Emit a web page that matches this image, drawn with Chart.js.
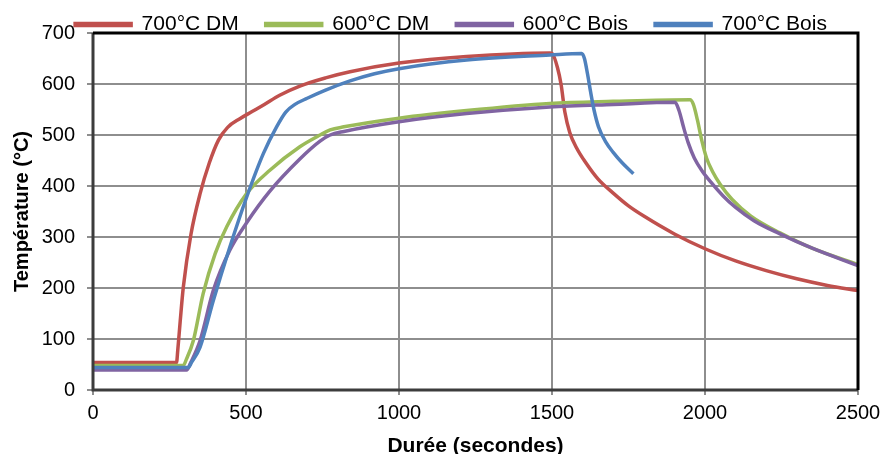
<!DOCTYPE html>
<html>
<head>
<meta charset="utf-8">
<script src="https://cdn.jsdelivr.net/npm/chart.js@4.4.1/dist/chart.umd.min.js"></script>
<style>
  body { margin: 0; background: #fff; }
  #wrap { width: 882px; height: 454px; }
</style>
</head>
<body>
<div id="wrap"><canvas id="chart" width="882" height="454"></canvas></div>
<script>
const SERIES_NAMES = ['700°C DM', '600°C DM', '600°C Bois', '700°C Bois']
const SERIES_COLORS = ['#C0504D', '#9BBB59', '#8064A2', '#4F81BD']
const X_TICKS = [0, 500, 1000, 1500, 2000, 2500]
const Y_TICKS = [0, 100, 200, 300, 400, 500, 600, 700]

// durée (s) / température (°C)
const dm700Time = [0, 273, 277, 285, 295, 320, 350, 380, 410, 440, 480, 520, 560, 610, 676, 760, 840, 1000, 1221, 1493, 1500, 1518, 1530, 1542, 1558, 1580, 1610, 1650, 1700, 1750, 1800, 1900, 2000, 2100, 2200, 2300, 2400, 2500]
const dm700Temp = [54, 54, 78, 135, 201, 305, 385, 445, 490, 515, 532, 546, 560, 578, 596, 612, 624, 641, 654, 661, 660, 632, 598, 545, 505, 475, 446, 414, 386, 361, 341, 306, 277, 253, 234, 218, 205, 195]

const dm600Time = [0, 295, 305, 328, 360, 399, 437, 502, 578, 676, 742, 775, 820, 1000, 1221, 1493, 1700, 1951, 1962, 1975, 1990, 2005, 2025, 2050, 2088, 2150, 2245, 2354, 2500]
const dm600Temp = [48, 48, 60, 97, 189, 267, 320, 385, 431, 477, 500, 510, 516, 533, 548, 562, 566, 569, 560, 530, 488, 455, 428, 403, 374, 341, 308, 277, 246]

const bois600Time = [0, 306, 318, 350, 393, 447, 502, 578, 676, 742, 775, 820, 1000, 1221, 1493, 1700, 1902, 1915, 1930, 1945, 1965, 1990, 2020, 2060, 2100, 2160, 2245, 2354, 2500]
const bois600Temp = [39, 39, 52, 97, 195, 274, 328, 390, 453, 488, 500, 507, 526, 542, 555, 560, 564, 548, 515, 485, 455, 430, 407, 380, 358, 332, 306, 277, 244]

const bois700Time = [0, 311, 322, 350, 393, 447, 502, 557, 600, 630, 660, 700, 760, 840, 920, 1000, 1221, 1493, 1597, 1606, 1616, 1626, 1637, 1652, 1675, 1700, 1730, 1766]
const bois700Temp = [44, 44, 54, 84, 175, 280, 378, 464, 516, 545, 560, 572, 588, 606, 620, 630, 647, 657, 660, 650, 620, 585, 550, 516, 487, 466, 445, 424]

const SERIES_TIME = [dm700Time, dm600Time, bois600Time, bois700Time]
const SERIES_TEMP = [dm700Temp, dm600Temp, bois600Temp, bois700Temp]

const FONT = 'Liberation Sans, Arial, sans-serif'

const framePlugin = {
  id: 'frame',
  afterLayout(chart) {
    // légende remontée comme dans Excel
    chart.legend.top = -13
    chart.legend.left += 22
    chart.legend.right += 22
  },
  afterDatasetsDraw(chart) {
    const { ctx, chartArea: a } = chart
    ctx.save()
    ctx.lineWidth = 3
    ctx.strokeStyle = '#3c3c3c'
    ctx.beginPath()
    ctx.moveTo(a.left, a.top)
    ctx.lineTo(a.left, a.bottom)
    ctx.lineTo(a.right, a.bottom)
    ctx.stroke()
    ctx.strokeStyle = '#000'
    ctx.beginPath()
    ctx.moveTo(a.left, a.top)
    ctx.lineTo(a.right, a.top)
    ctx.lineTo(a.right, a.bottom)
    ctx.stroke()
    ctx.restore()
  }
}

const datasets = SERIES_NAMES.map((name, i) => ({
  label: name,
  data: SERIES_TIME[i].map((t, k) => ({ x: t, y: SERIES_TEMP[i][k] })),
  borderColor: SERIES_COLORS[i],
  backgroundColor: SERIES_COLORS[i],
  borderWidth: 3.5,
  pointRadius: 0,
  fill: false,
  cubicInterpolationMode: 'monotone',
  order: SERIES_NAMES.length - i
}))

new Chart(document.getElementById('chart'), {
  type: 'line',
  data: { datasets },
  options: {
    responsive: false,
    animation: false,
    layout: { padding: { left: 0, right: 24, top: 0, bottom: 0 } },
    plugins: {
      legend: {
        display: true,
        position: 'top',
        maxHeight: 33,
        labels: {
          color: '#000',
          font: { size: 21, family: FONT },
          boxWidth: 56,
          boxHeight: 2,
          padding: 27,
          sort: (a, b) => a.datasetIndex - b.datasetIndex
        }
      },
      tooltip: { enabled: false }
    },
    scales: {
      x: {
        type: 'linear',
        min: 0,
        max: 2500,
        afterBuildTicks: s => { s.ticks = X_TICKS.map(v => ({ value: v })) },
        afterFit: s => { s.height = 64; s.paddingRight = 0; s.paddingLeft = 0 },
        ticks: { color: '#000', font: { size: 20, family: FONT }, padding: 6, maxRotation: 0, callback: v => String(v) },
        grid: { color: '#8e8e8e', lineWidth: 2, tickLength: 5 },
        border: { display: false },
        title: { display: true, text: 'Durée (secondes)', color: '#000', font: { size: 21, weight: 'bold', family: FONT, lineHeight: 0.7 }, padding: { top: 0, bottom: 0 } }
      },
      y: {
        type: 'linear',
        min: 0,
        max: 700,
        afterBuildTicks: s => { s.ticks = Y_TICKS.map(v => ({ value: v })) },
        afterFit: s => { s.width = 93 },
        ticks: { color: '#000', font: { size: 20, family: FONT }, padding: 12, callback: v => String(v) },
        grid: { color: '#8e8e8e', lineWidth: 2, tickLength: 6 },
        border: { display: false },
        title: { display: true, text: 'Température (°C)', color: '#000', font: { size: 20, weight: 'bold', family: FONT, lineHeight: 1 }, padding: { top: 12, bottom: 0 } }
      }
    }
  },
  plugins: [framePlugin]
})
</script>
</body>
</html>
